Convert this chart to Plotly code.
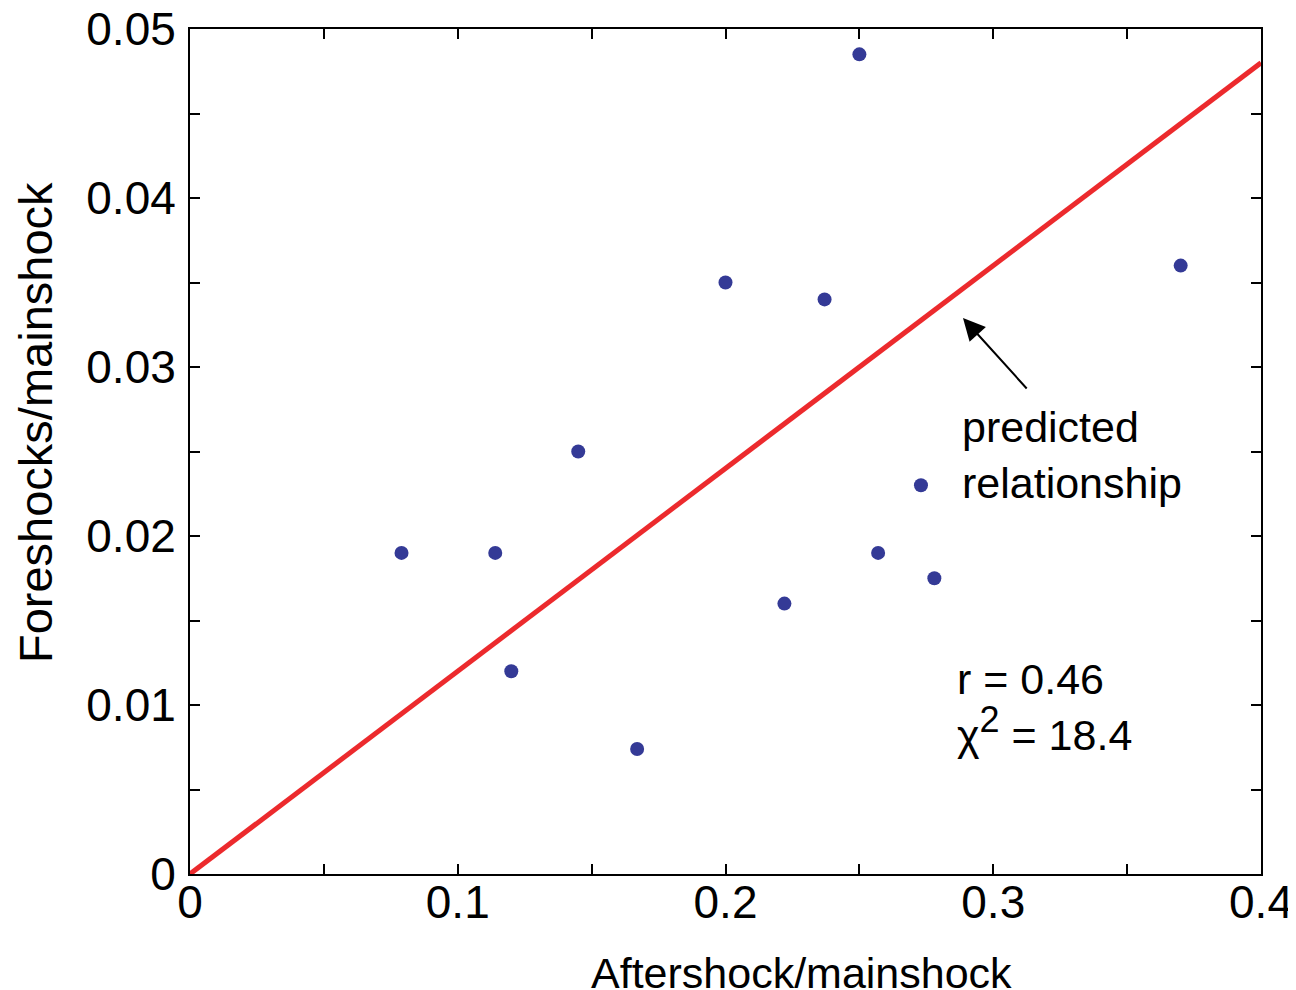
import plotly.graph_objects as go

aftershock = [0.079, 0.114, 0.120, 0.145, 0.167, 0.200, 0.222, 0.237, 0.250, 0.257, 0.273, 0.278, 0.370]
foreshock = [0.0190, 0.0190, 0.0120, 0.0250, 0.0074, 0.0350, 0.0160, 0.0340, 0.0485, 0.0190, 0.0230, 0.0175, 0.0360]

pred_x = [0.0, 0.4]
pred_y = [0.0, 0.048]

x_tickvals = [0, 0.1, 0.2, 0.3, 0.4]
x_ticktext = ["0", "0.1", "0.2", "0.3", "0.4"]
y_tickvals = [0, 0.01, 0.02, 0.03, 0.04, 0.05]
y_ticktext = ["0", "0.01", "0.02", "0.03", "0.04", "0.05"]

FONT = "Liberation Sans, Arial, Helvetica, sans-serif"

fig = go.Figure()
fig.add_trace(go.Scatter(x=pred_x, y=pred_y, mode="lines",
                         line=dict(color="#ec2a2d", width=5), showlegend=False,
                         cliponaxis=False))
fig.add_trace(go.Scatter(x=aftershock, y=foreshock, mode="markers",
                         marker=dict(color="#343a96", size=14), showlegend=False,
                         cliponaxis=False))

axis_common = dict(showgrid=False, zeroline=False, showline=True, linecolor="black",
                   linewidth=2, mirror="ticks", ticks="inside", ticklen=10,
                   tickwidth=1.5, tickcolor="black", automargin=False,
                   ticklabeloverflow="allow",
                   tickfont=dict(family=FONT, size=46, color="black"))

fig.update_xaxes(range=[0, 0.4], tickvals=x_tickvals, ticktext=x_ticktext,
                 minor=dict(ticks="inside", ticklen=10, tickwidth=1.5, tickcolor="black",
                            tickvals=[0.05, 0.15, 0.25, 0.35]),
                 ticklabelstandoff=-13,
                 **axis_common)
fig.update_yaxes(range=[0, 0.05], tickvals=y_tickvals, ticktext=y_ticktext,
                 minor=dict(ticks="inside", ticklen=10, tickwidth=1.5, tickcolor="black",
                            tickvals=[0.005, 0.015, 0.025, 0.035, 0.045]),
                 ticklabelstandoff=3,
                 **axis_common)

fig.add_annotation(text="Aftershock/mainshock", xref="paper", yref="paper",
                   x=0.5714, y=-0.117, showarrow=False, xanchor="center", yanchor="middle",
                   font=dict(family=FONT, size=43, color="black"))
fig.add_annotation(text="Foreshocks/mainshock", xref="paper", yref="paper",
                   x=-0.1447, y=0.5337, showarrow=False, xanchor="center", yanchor="middle",
                   textangle=-90, font=dict(family=FONT, size=47, color="black"))

fig.add_annotation(text="predicted<br>relationship", x=0.2874, y=0.0248, xref="x", yref="y",
                   showarrow=False, xanchor="left", yanchor="middle", align="left",
                   font=dict(family=FONT, size=43, color="black"))
fig.add_annotation(text="", x=0.2887, y=0.0329, ax=0.313, ay=0.02864, xref="x", yref="y",
                   axref="x", ayref="y", showarrow=True, arrowhead=2, arrowsize=2.2,
                   arrowwidth=2, arrowcolor="black")
fig.add_annotation(text="r = 0.46<br>χ<sup><span style='font-size:36px'>2</span></sup> = 18.4",
                   x=0.2856, y=0.0099, xref="x", yref="y",
                   showarrow=False, xanchor="left", yanchor="middle", align="left",
                   font=dict(family=FONT, size=43, color="black"))

# page body has an 8px default margin, so the figure is drawn 8px smaller
fig.update_layout(width=1288, height=982, margin=dict(l=182, r=35, t=21, b=116),
                  plot_bgcolor="white", paper_bgcolor="white",
                  font=dict(family=FONT, color="black"))

fig.write_html("out.html")
